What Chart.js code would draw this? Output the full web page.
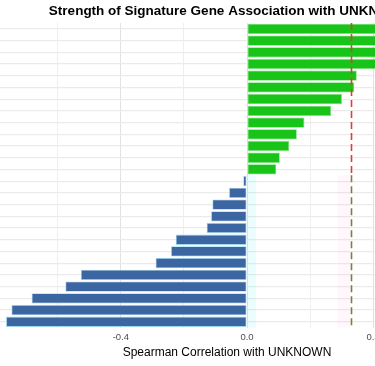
<!DOCTYPE html>
<html>
<head>
<meta charset="utf-8">
<script src="https://cdn.jsdelivr.net/npm/chart.js@4"></script>
<style>
  html, body { margin: 0; padding: 0; background: #fff; overflow: hidden; }
  body { width: 375px; height: 366px; position: relative; }
  /* the reference is a crop of a wider plot: the panel runs past both edges */
  #wrap { position: absolute; left: -16px; top: 0; width: 486px; height: 366px; }
</style>
</head>
<body>
<div id="wrap"><canvas id="corrChart"></canvas></div>
<script>
    // --- DATA ---

    // gene names sit off the left edge of the crop, so only the order is kept
    const genes = [
        'gene 1', 'gene 2', 'gene 3', 'gene 4', 'gene 5', 'gene 6', 'gene 7',
        'gene 8', 'gene 9', 'gene 10', 'gene 11', 'gene 12', 'gene 13',
        'gene 14', 'gene 15', 'gene 16', 'gene 17', 'gene 18', 'gene 19',
        'gene 20', 'gene 21', 'gene 22', 'gene 23', 'gene 24', 'gene 25', 'gene 26'
    ];

    // Spearman rho per gene (top four run past the right edge, estimated)
    const rho = [
        0.637, 0.58, 0.52, 0.47, 0.348, 0.340, 0.301, 0.267, 0.182, 0.158, 0.134, 0.104, 0.093,
        -0.012, -0.057, -0.110, -0.114, -0.128, -0.226, -0.241, -0.290,
        -0.527, -0.576, -0.683, -0.747, -0.764
    ];

    const xTickLabels = [-0.4, 0.0, 0.4];
    const majorBreaks = [-0.8, -0.4, 0.0, 0.4];
    const threshold = 0.329;          // dashed reference line
    const negShade = [0.0, 0.029];    // faint band next to the negative bars
    const posShade = [0.286, 0.327];  // faint band left of the threshold
    const splitRow = 12.5;            // boundary between positive and negative rows

    const titleText = 'Strength of Signature Gene Association with UNKNOWN';
    const posColor = '#18c418';
    const negColor = '#3b66a2';

    // --- PLUGINS ---

    const bands = {
        id: 'bands',
        beforeDatasetsDraw(chart) {
            const { ctx, chartArea, scales: { x, y } } = chart;
            const yTop = y.getPixelForValue(splitRow);
            ctx.save();
            ctx.fillStyle = 'rgba(0, 235, 255, 0.08)';
            const n0 = x.getPixelForValue(negShade[0]);
            ctx.fillRect(n0, yTop, x.getPixelForValue(negShade[1]) - n0, chartArea.bottom - yTop);
            ctx.fillStyle = 'rgba(255, 120, 200, 0.06)';
            const p0 = x.getPixelForValue(posShade[0]);
            ctx.fillRect(p0, yTop, x.getPixelForValue(posShade[1]) - p0, chartArea.bottom - yTop);
            ctx.restore();
        },
        afterDatasetsDraw(chart) {
            const { ctx, chartArea, scales: { x, y } } = chart;
            const px = Math.round(x.getPixelForValue(threshold)) + 0.5;
            const ySplit = y.getPixelForValue(splitRow);
            ctx.save();
            ctx.lineWidth = 1.6;
            ctx.setLineDash([7, 4]);
            ctx.strokeStyle = '#e8383c';
            ctx.beginPath();
            ctx.moveTo(px, chartArea.top);
            ctx.lineTo(px, ySplit);
            ctx.stroke();
            ctx.strokeStyle = '#857a3e';
            ctx.beginPath();
            ctx.moveTo(px, ySplit);
            ctx.lineTo(px, chartArea.bottom);
            ctx.stroke();
            ctx.restore();
        }
    };

    // plot title, centred a little right of the panel centre as in the original
    const plotTitle = {
        id: 'plotTitle',
        afterDraw(chart) {
            const { ctx, chartArea } = chart;
            ctx.save();
            ctx.font = 'bold 13.5px "Liberation Sans", Arial, sans-serif';
            ctx.fillStyle = '#000';
            ctx.textAlign = 'center';
            ctx.textBaseline = 'alphabetic';
            ctx.fillText(titleText, (chartArea.left + chartArea.right) / 2 + 3, 15);
            ctx.restore();
        }
    };

    // --- CHART ---

    const ctx = document.getElementById('corrChart').getContext('2d');
    new Chart(ctx, {
        type: 'bar',
        data: {
            labels: genes,
            datasets: [{
                data: rho,
                backgroundColor: rho.map(v => v >= 0 ? posColor : negColor),
                borderColor: rho.map(v => v >= 0 ? '#7fe07f' : '#9fd8ee'),
                borderWidth: 0.8,
                borderSkipped: false,
                categoryPercentage: 1,
                barPercentage: 0.88
            }]
        },
        options: {
            indexAxis: 'y',
            responsive: true,
            maintainAspectRatio: false,
            animation: false,
            layout: { padding: { top: 23 } },
            scales: {
                x: {
                    min: -0.834,
                    max: 0.707,
                    afterFit(scale) { scale.paddingLeft = 0; scale.paddingRight = 0; },
                    border: { display: false },
                    grid: {
                        drawTicks: false,
                        color: c => majorBreaks.some(t => Math.abs(t - c.tick.value) < 1e-6) ? '#e2e2e2' : '#eeeeee',
                        lineWidth: 1
                    },
                    ticks: {
                        stepSize: 0.2,
                        includeBounds: false,
                        autoSkip: false,
                        maxRotation: 0,
                        padding: 5.5,
                        color: '#4d4d4d',
                        font: { family: 'Liberation Sans, Arial, sans-serif', size: 9.5, lineHeight: 1 },
                        callback: function(value) {
                            const hit = xTickLabels.find(t => Math.abs(t - value) < 1e-6);
                            return hit === undefined ? '' : hit.toFixed(1);
                        }
                    },
                    title: {
                        display: true,
                        text: 'Spearman Correlation with UNKNOWN',
                        color: '#000',
                        font: { family: 'Liberation Sans, Arial, sans-serif', size: 12 },
                        padding: { top: -2.5, bottom: 6 }
                    }
                },
                y: {
                    border: { display: false },
                    grid: { offset: false, drawTicks: false, color: '#ebebeb', lineWidth: 1.2 },
                    ticks: { display: false }
                }
            },
            plugins: {
                legend: { display: false },
                tooltip: { enabled: false },
                title: { display: false }
            }
        },
        plugins: [bands, plotTitle]
    });
</script>
</body>
</html>
